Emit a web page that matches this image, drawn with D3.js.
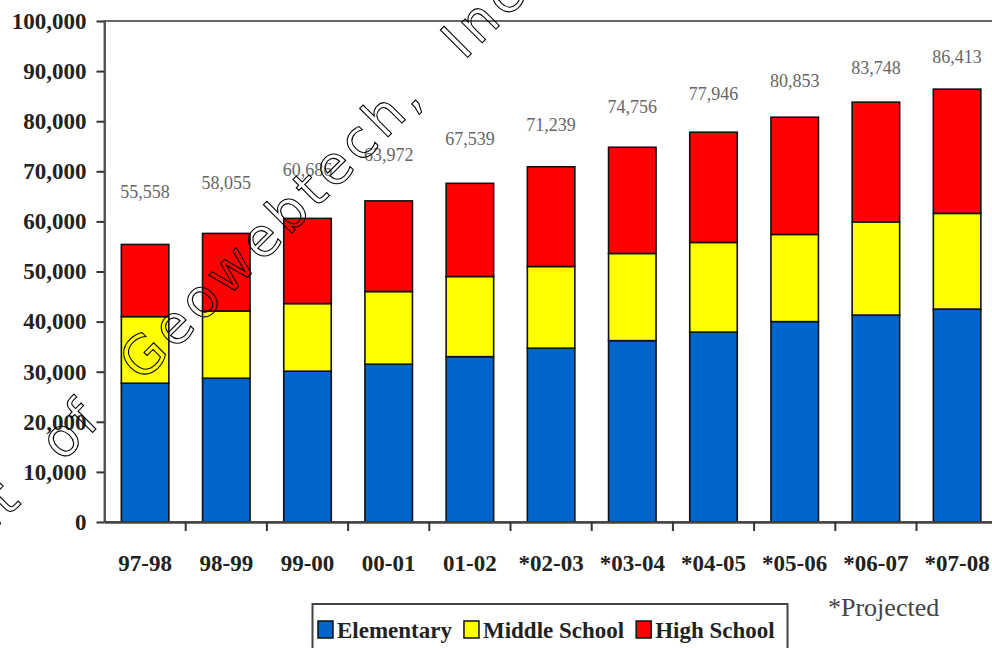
<!DOCTYPE html>
<html><head><meta charset="utf-8">
<script src="https://cdn.jsdelivr.net/npm/d3@7"></script>
<style>body{margin:0;background:#fff}svg{display:block}</style>
</head><body><svg id="c" width="992" height="648"></svg>
<script>
const categories = ["97-98","98-99","99-00","00-01","01-02","*02-03","*03-04","*04-05","*05-06","*06-07","*07-08"];
const elementary   = [27700,28700,30100,31500,33000,34700,36200,37900,40000,41300,42500];
const middleSchool = [13300,13400,13500,14500,16000,16300,17400,17900,17400,18600,19100];
const highSchool   = [14400,15500,17000,18100,18600,19900,21200,22000,23400,23900,24800];
const totalLabels  = ["55,558","58,055","60,686","63,972","67,539","71,239","74,756","77,946","80,853","83,748","86,413"];
const seriesNames  = ["Elementary","Middle School","High School"];
const seriesColors = ["#0066cc","#ffff00","#ff0000"];
const yTicks = [0,10000,20000,30000,40000,50000,60000,70000,80000,90000,100000];
const footnote = "*Projected";
const watermark = "Product of Geowebtech, Inc.";

const svg = d3.select("#c");
svg.append("rect").attr("width",992).attr("height",648).attr("fill","#fff");

const serif = "'Liberation Serif','Times New Roman',serif";
const y = d3.scaleLinear().domain([0,100000]).range([522,21]);
const x = d3.scaleBand().domain(categories).range([104.5,997.7]).paddingInner(0.415).paddingOuter(0.2075);

const rows = categories.map((c,i)=>({cat:c,"Elementary":elementary[i],"Middle School":middleSchool[i],"High School":highSchool[i]}));
const stack = d3.stack().keys(seriesNames)(rows);

// frame
svg.append("rect").attr("x",104.5).attr("y",21).attr("width",893).attr("height",501)
  .attr("fill","none").attr("stroke","#666").attr("stroke-width",2);

// bars
stack.forEach((s,si)=>{
  svg.append("g").selectAll("rect").data(s).join("rect")
    .attr("x",d=>x(d.data.cat)).attr("width",x.bandwidth())
    .attr("y",d=>y(d[1])).attr("height",d=>y(d[0])-y(d[1]))
    .attr("fill",seriesColors[si]).attr("stroke","#111").attr("stroke-width",1.6);
});

// y axis
const ya = svg.append("g").attr("transform","translate(104.5,0)")
  .call(d3.axisLeft(y).tickValues(yTicks).tickFormat(d3.format(",")).tickSize(8).tickPadding(10).tickSizeOuter(0));
ya.select(".domain").attr("stroke","#555").attr("stroke-width",2);
ya.selectAll(".tick line").attr("stroke","#333").attr("stroke-width",2);
ya.selectAll("text").attr("font-family",serif).attr("font-size",23).attr("font-weight","bold").attr("fill","#222");

// x axis
const xa = svg.append("g").attr("transform","translate(0,522)")
  .call(d3.axisBottom(x).tickSize(0).tickSizeOuter(0));
xa.select(".domain").attr("stroke","#444").attr("stroke-width",2.5);
xa.selectAll("text").attr("y",49).attr("dy",0).attr("font-family",serif).attr("font-size",23)
  .attr("font-weight","bold").attr("fill","#222");
const gapHalf = (x.step()-x.bandwidth())/2;
xa.append("g").selectAll("line").data(categories.slice(1)).join("line")
  .attr("x1",d=>x(d)-gapHalf).attr("x2",d=>x(d)-gapHalf).attr("y1",0).attr("y2",9)
  .attr("stroke","#333").attr("stroke-width",2);

// total labels
svg.append("g").selectAll("text").data(stack[2]).join("text")
  .attr("x",d=>x(d.data.cat)+x.bandwidth()/2)
  .attr("y",(d,i)=>y(d[1])-(46-2*i))
  .attr("text-anchor","middle").attr("font-family",serif).attr("font-size",18).attr("fill","#666")
  .text((d,i)=>totalLabels[i]);

// legend
svg.append("rect").attr("x",312.5).attr("y",604).attr("width",475).attr("height",70)
  .attr("fill","#fff").attr("stroke","#444").attr("stroke-width",2);
let lx = 318;
seriesNames.forEach((n,i)=>{
  svg.append("rect").attr("x",lx).attr("y",621).attr("width",15).attr("height",17)
    .attr("fill",seriesColors[i]).attr("stroke","#111").attr("stroke-width",1.5);
  const t = svg.append("text").attr("x",lx+19).attr("y",638).attr("font-family",serif)
    .attr("font-size",23).attr("font-weight","bold").attr("fill","#222").text(n);
  lx = lx + 19 + t.node().getComputedTextLength() + 12;
});

svg.append("text").attr("x",828).attr("y",616).attr("font-family",serif).attr("font-size",26)
  .attr("fill","#444").text(footnote);

// watermark
const wg = svg.append("g").attr("transform","translate(142,383) rotate(-45)");
const wt = wg.append("text").attr("font-family","'DejaVu Sans',sans-serif").attr("font-size",53)
  .attr("letter-spacing",5).attr("word-spacing",30).attr("fill","none").attr("stroke","#000").attr("stroke-width",1.1)
  .text(watermark);
const gpos = wt.node().getStartPositionOfChar(11);
wt.attr("x",-gpos.x);
</script></body></html>
